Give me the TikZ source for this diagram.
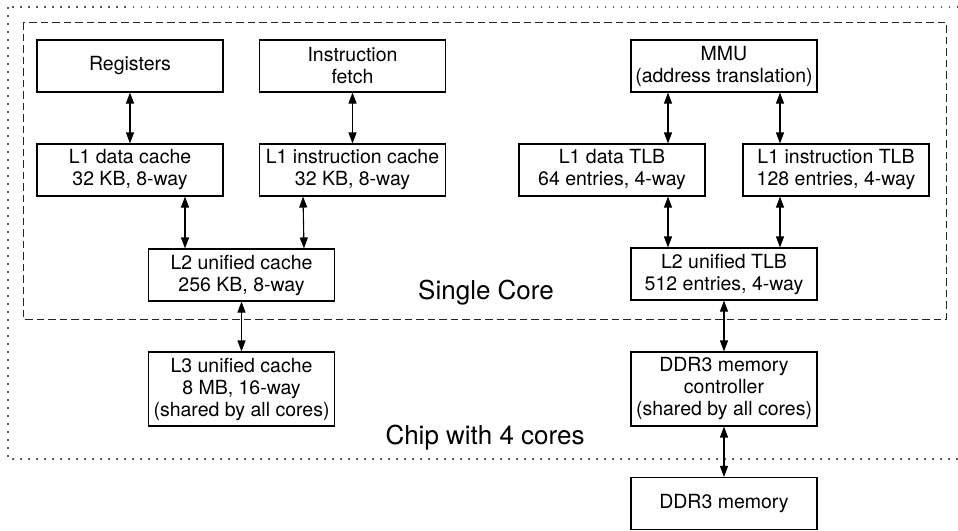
\documentclass[tikz,border=0pt]{standalone}
\usepackage{fontspec}
\setmainfont{TeX Gyre Heros}
\usetikzlibrary{arrows.meta}

\tikzstyle{box} = [draw, line width=1.1pt, minimum width=186pt, minimum height=52pt, inner sep=0pt, align=center, font=\fontsize{19.5}{22}\selectfont]
\tikzstyle{tallbox} = [box, minimum height=74pt]
\tikzstyle{arrowb} = [line width=1.1pt, {Triangle[length=11pt,width=8pt]}-{Triangle[length=11pt,width=8pt]}]
\tikzstyle{title} = [font=\fontsize{26}{30}\selectfont]

\begin{document}
\begin{tikzpicture}[x=1pt,y=-1pt]
\useasboundingbox (0,0) rectangle (958,530);

% Chip and core borders
\draw [black!65, line width=1.5pt, dash pattern=on 1.5pt off 6.5pt] (8,7) rectangle (975,459);
\draw [black!85, line width=1pt, dash pattern=on 7.5pt off 4pt] (23,22) rectangle (946,319);

% Cache side
\node [box] (reg) at (130,66) {Registers};
\node [box] (fetch) at (352.5,66) {Instruction\\fetch};
\node [box] (l1d) at (130,170) {L1 data cache\\32 KB, 8-way};
\node [box] (l1i) at (352.5,170) {L1 instruction cache\\32 KB, 8-way};
\node [box] (l2c) at (241.5,275) {L2 unified cache\\256 KB, 8-way};
\node [tallbox] (l3c) at (241.5,389) {L3 unified cache\\8 MB, 16-way\\(shared by all cores)};

% TLB side
\node [box] (mmu) at (724,66) {MMU\\(address translation)};
\node [box] (l1dt) at (612,170) {L1 data TLB\\64 entries, 4-way};
\node [box] (l1it) at (836,170) {L1 instruction TLB\\128 entries, 4-way};
\node [box] (l2t) at (724,274) {L2 unified TLB\\512 entries, 4-way};
\node [tallbox] (ctrl) at (724,389) {DDR3 memory\\controller\\(shared by all cores)};
\node [box] (mem) at (724,503.5) {DDR3 memory};

% Titles
\node [title] (core) at (486,293) {Single Core};
\node [title] (chip) at (485,438) {Chip with 4 cores};

% Arrows
\draw [arrowb] (reg) -- (l1d);
\draw [arrowb] (fetch) -- (l1i);
\draw [arrowb] ([xshift=55pt]l1d.south) -- ([xshift=-56.5pt]l2c.north);
\draw [arrowb] ([xshift=-49.5pt]l1i.south) -- ([xshift=62.5pt]l2c.north);
\draw [arrowb] (l2c) -- (l3c);

\draw [arrowb] ([xshift=-56pt]mmu.south) -- ([xshift=56pt]l1dt.north);
\draw [arrowb] ([xshift=56pt]mmu.south) -- ([xshift=-56pt]l1it.north);
\draw [arrowb] ([xshift=56pt]l1dt.south) -- ([xshift=-56pt]l2t.north);
\draw [arrowb] ([xshift=-56pt]l1it.south) -- ([xshift=56pt]l2t.north);
\draw [arrowb] (l2t) -- (ctrl);
\draw [arrowb] (ctrl) -- (mem);

\end{tikzpicture}
\end{document}
